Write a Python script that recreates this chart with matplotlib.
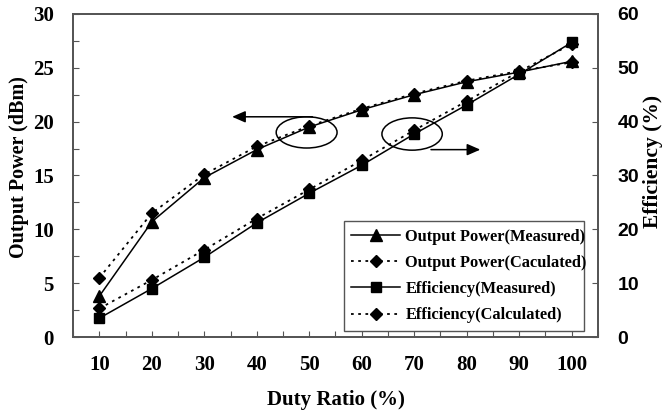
import numpy as np
import matplotlib.pyplot as plt
from matplotlib.patches import Ellipse

#==============================
#            DATA
#==============================
duty = [10, 20, 30, 40, 50, 60, 70, 80, 90, 100]
pout_meas = [3.8, 10.7, 14.8, 17.4, 19.5, 21.1, 22.5, 23.7, 24.6, 25.6]
pout_calc = [5.5, 11.5, 15.1, 17.7, 19.6, 21.2, 22.6, 23.8, 24.7, 25.5]
eff_meas = [3.5, 9.0, 14.8, 21.2, 26.7, 31.9, 37.7, 43.1, 48.8, 54.7]
eff_calc = [5.3, 10.6, 16.2, 22.0, 27.4, 32.8, 38.4, 43.8, 49.3, 54.4]

labels = ["Output Power(Measured)", "Output Power(Caculated)",
          "Efficiency(Measured)", "Efficiency(Calculated)"]

SERIF = "Liberation Serif"
SANS = "Liberation Sans"
dotted = (0, (1.5, 2.5))
spine_col = "#555555"

#==============================
#            PLOT
#==============================
fig = plt.figure(figsize=(6.65, 4.19), dpi=100)
ax = fig.add_axes([0.110, 0.1957, 0.789, 0.771])
ax2 = ax.twinx()

l1, = ax.plot(duty, pout_meas, 'k-', lw=1.1, marker='^', ms=8)
l2, = ax.plot(duty, pout_calc, 'k', ls=dotted, lw=1.3, marker='D', ms=6)
l3, = ax2.plot(duty, eff_meas, 'k-', lw=1.1, marker='s', ms=7)
l4, = ax2.plot(duty, eff_calc, 'k', ls=dotted, lw=1.3, marker='D', ms=6)

ax.set_xlim(5, 105)
ax.set_ylim(0, 30)
ax2.set_ylim(0, 60)

ax.set_xticks(duty)
ax.set_xticks(np.arange(5, 106, 10), minor=True)
ax.set_yticks(np.arange(0, 31, 5))
ax.set_yticks(np.arange(2.5, 30, 5), minor=True)
ax2.set_yticks(np.arange(0, 61, 10))

for a in (ax, ax2):
    a.tick_params(which='both', direction='in', length=4, width=0.8, color=spine_col)
    for s in a.spines.values():
        s.set_color(spine_col)
        s.set_linewidth(1.3)
ax.tick_params(axis='x', pad=13)
ax.tick_params(axis='y', pad=14)
ax2.tick_params(axis='y', pad=14)

for t in ax.get_xticklabels() + ax.get_yticklabels():
    t.set_fontfamily(SERIF)
    t.set_fontweight('bold')
    t.set_fontsize(15)
for t in ax2.get_yticklabels():
    t.set_fontfamily(SANS)
    t.set_fontweight('bold')
    t.set_fontsize(14)

ax.set_xlabel("Duty Ratio (%)", family=SERIF, weight='bold', fontsize=15, labelpad=11)
ax.set_ylabel("Output Power (dBm)", family=SERIF, weight='bold', fontsize=14.5)
ax2.set_ylabel("Efficiency (%)", family=SERIF, weight='bold', fontsize=15.5)
ax.yaxis.set_label_coords(-0.084, 0.526)
ax2.yaxis.set_label_coords(1.087, 0.543)

# ellipses and arrows pointing to the axis of each pair
ax.add_patch(Ellipse((49.5, 19.0), 11.6, 2.9, fill=False, ec='k', lw=1.1))
ax.add_patch(Ellipse((69.6, 18.85), 11.5, 3.0, fill=False, ec='k', lw=1.1))
ax.annotate("", xy=(35.3, 20.45), xytext=(50.6, 20.45),
            arrowprops=dict(arrowstyle='-|>,head_length=0.8,head_width=0.35',
                            color='k', lw=1.1, shrinkA=0, shrinkB=0))
ax.annotate("", xy=(82.6, 17.4), xytext=(73.2, 17.4),
            arrowprops=dict(arrowstyle='-|>,head_length=0.8,head_width=0.35',
                            color='k', lw=1.1, shrinkA=0, shrinkB=0))

leg = ax2.legend([l1, l2, l3, l4], labels, loc='lower left',
                 bbox_to_anchor=(0.516, 0.0195, 0.457, 0.333), mode='expand',
                 prop=dict(family=SERIF, weight='bold', size=11.8),
                 handlelength=3.0, handletextpad=0.3, borderaxespad=0,
                 fancybox=False, framealpha=1, edgecolor=spine_col,
                 labelspacing=0.62, borderpad=0.45)
leg.get_frame().set_linewidth(1.0)

fig.savefig("out.png", dpi=100)
